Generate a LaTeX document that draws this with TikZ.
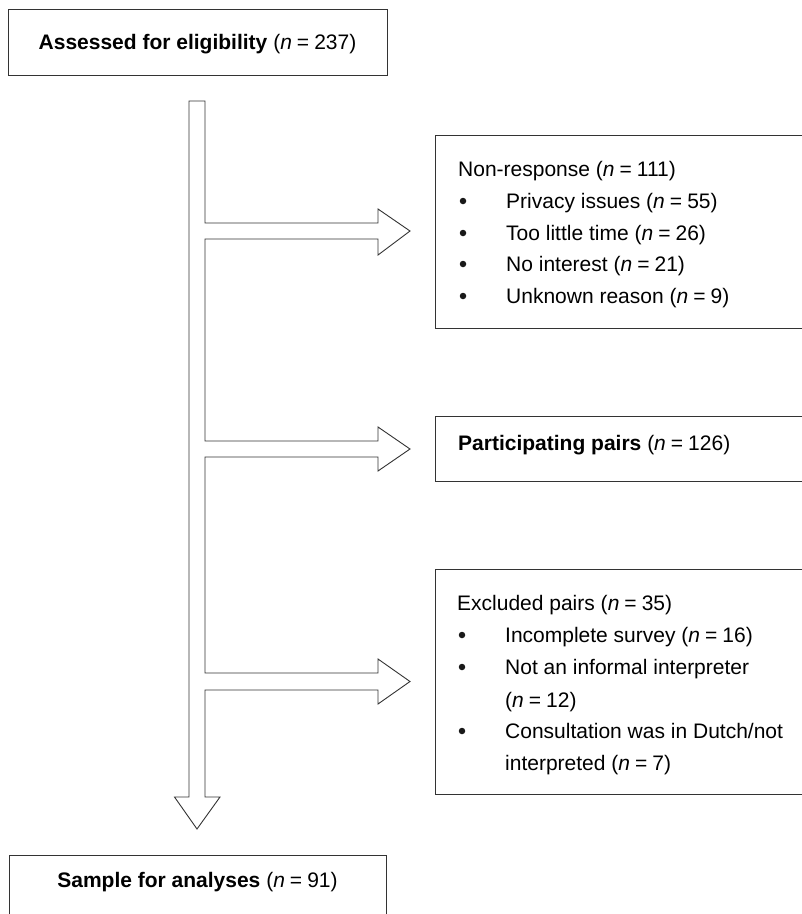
\documentclass[tikz,border=0pt]{standalone}
\usepackage{fontspec}
\setmainfont{Liberation Sans}
\newcommand{\nval}[1]{(\textit{n}\hspace{0.24em}=\hspace{0.24em}#1)}
\begin{document}
\begin{tikzpicture}[x=1pt,y=-1pt,
  frame/.style={draw=black!80, line width=0.9pt, inner sep=0pt},
  txt/.style={anchor=base west, inner sep=0pt, font=\fontsize{21}{25}\selectfont},
  ctxt/.style={anchor=base, inner sep=0pt, font=\fontsize{21}{25}\selectfont},
  bul/.style={circle, fill=black!90, inner sep=0pt, minimum size=6.5pt},
  flow/.style={draw=black!80, line width=0.9pt, line join=miter}]
\useasboundingbox (0,0) rectangle (802,914);
\clip (0,0) rectangle (802,914);

% boxes
\node[frame, minimum width=379pt, minimum height=66pt] (assess) at (197.5,42) {};
\node[frame, minimum width=385pt, minimum height=193pt] (nonresp) at (627.5,231.5) {};
\node[frame, minimum width=385pt, minimum height=65pt] (partic) at (627.5,448.5) {};
\node[frame, minimum width=385pt, minimum height=225pt] (excl) at (627.5,681.5) {};
\node[frame, minimum width=377pt, minimum height=100pt] (sample) at (197.5,905) {};

% texts
\node[ctxt] (t1) at (197.5,49.5) {\textbf{Assessed for eligibility} \nval{237}};

\node[txt] (n0) at (458,176.5) {Non-response \nval{111}};
\node[bul] (b1) at (463,201) {};
\node[txt] (n1) at (506,208.5) {Privacy issues \nval{55}};
\node[bul] (b2) at (463,233) {};
\node[txt] (n2) at (506,240.5) {Too little time \nval{26}};
\node[bul] (b3) at (463,264) {};
\node[txt] (n3) at (506,271.5) {No interest \nval{21}};
\node[bul] (b4) at (463,296) {};
\node[txt] (n4) at (506,303.5) {Unknown reason \nval{9}};

\node[txt] (p0) at (458,450.5) {\textbf{Participating pairs} \nval{126}};

\node[txt] (e0) at (457,610.5) {Excluded pairs \nval{35}};
\node[bul] (c1) at (462,635) {};
\node[txt] (e1) at (505,642.5) {Incomplete survey \nval{16}};
\node[bul] (c2) at (462,667) {};
\node[txt] (e2) at (505,674.5) {Not an informal interpreter};
\node[txt] (e3) at (505,707.5) {\nval{12}};
\node[bul] (c3) at (462,731) {};
\node[txt] (e4) at (505,738.5) {Consultation was in Dutch/not};
\node[txt] (e5) at (505,770.5) {interpreted \nval{7}};

\node[ctxt] (s0) at (197.5,887.5) {\textbf{Sample for analyses} \nval{91}};

% block arrow (trunk with three branches)
\coordinate (tipA) at (410,231);
\coordinate (tipB) at (410,449);
\coordinate (tipC) at (410,681.5);
\coordinate (tipD) at (197,829);
\draw[flow] (189,101) -- (205,101) -- (205,223) -- (378,223) -- (378,209) -- (tipA)
  -- (378,255) -- (378,239) -- (205,239) -- (205,441) -- (378,441) -- (378,427) -- (tipB)
  -- (378,471) -- (378,457) -- (205,457) -- (205,673) -- (378,673) -- (378,659) -- (tipC)
  -- (378,704) -- (378,690) -- (205,690) -- (205,797) -- (220,797) -- (tipD)
  -- (174.5,797) -- (189,797) -- cycle;
\end{tikzpicture}
\end{document}
